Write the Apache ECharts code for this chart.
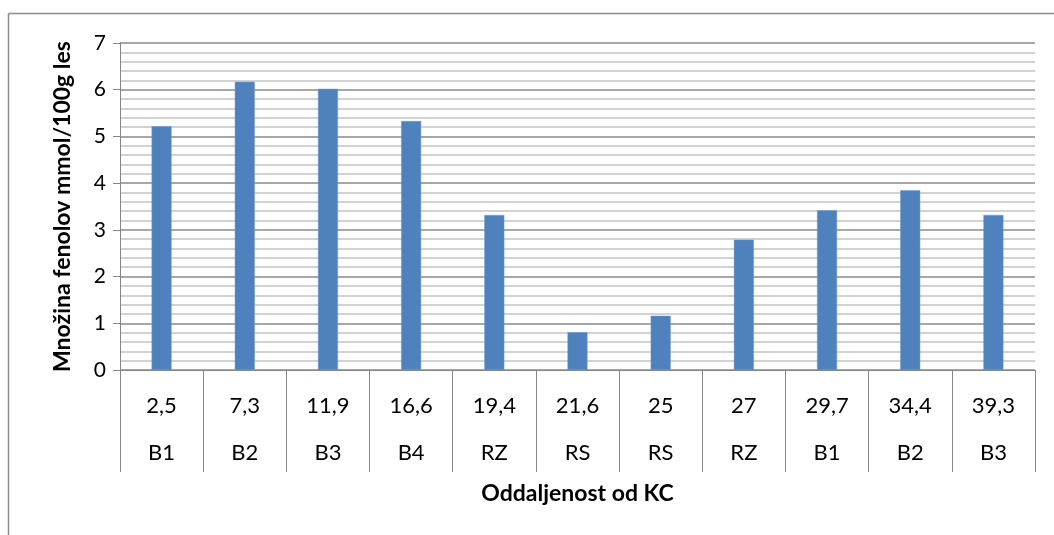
<!DOCTYPE html>
<html>
<head>
<meta charset="utf-8">
<script src="https://cdn.jsdelivr.net/npm/echarts@6/dist/echarts.min.js"></script>
<style>
  html, body { margin: 0; padding: 0; background: #fff; }
  #chart { width: 1054px; height: 535px; }
</style>
</head>
<body>
<div id="chart"></div>
<script>
// Distance from the centre (km) and the sampling site at each distance
const distances = ['2,5', '7,3', '11,9', '16,6', '19,4', '21,6', '25', '27', '29,7', '34,4', '39,3'];
const sites = ['B1', 'B2', 'B3', 'B4', 'RZ', 'RS', 'RS', 'RZ', 'B1', 'B2', 'B3'];
// Phenol amount, mmol per 100 g of wood
const phenols = [5.22, 6.17, 6.02, 5.33, 3.32, 0.81, 1.16, 2.79, 3.42, 3.85, 3.32];
const yTicks = [0, 1, 2, 3, 4, 5, 6, 7];

const categories = distances.map((d, i) => d + '\n' + sites[i]);
const FONT = 'Lato, "Open Sans", sans-serif';

const chart = echarts.init(document.getElementById('chart'));
chart.setOption({
  animation: false,
  backgroundColor: '#ffffff',
  textStyle: { fontFamily: FONT },
  grid: { left: 120, right: 19, top: 43, bottom: 165, containLabel: false },
  xAxis: {
    type: 'category',
    data: categories,
    boundaryGap: true,
    axisLine: { show: true, lineStyle: { color: '#868686', width: 1 } },
    axisTick: { show: true, alignWithLabel: false, length: 102, lineStyle: { color: '#868686', width: 1 } },
    axisLabel: {
      interval: 0, margin: 12, color: '#000', fontSize: 22, lineHeight: 47, fontFamily: FONT
    },
    name: 'Oddaljenost od KC',
    nameLocation: 'middle',
    nameGap: 112,
    nameTextStyle: { fontSize: 23, fontWeight: 'bold', color: '#000', fontFamily: FONT }
  },
  yAxis: {
    type: 'value',
    min: yTicks[0],
    max: yTicks[yTicks.length - 1],
    interval: 1,
    axisLine: { show: true, lineStyle: { color: '#868686', width: 1 } },
    axisTick: { show: true, inside: false, length: 7, lineStyle: { color: '#868686' } },
    axisLabel: { color: '#000', fontSize: 21, margin: 14, fontFamily: FONT },
    splitLine: { show: true, lineStyle: { color: '#8a8a8a', width: 1.5 } },
    minorTick: { show: false, splitNumber: 5 },
    minorSplitLine: { show: true, lineStyle: { color: '#c4c4c4', width: 1.5 } },
    name: 'Množina fenolov mmol/100g les',
    nameLocation: 'middle',
    nameGap: 46,
    nameTextStyle: { fontSize: 23, fontWeight: 'bold', color: '#000', fontFamily: FONT }
  },
  series: [{
    type: 'bar',
    data: phenols,
    barWidth: 20,
    itemStyle: { color: '#4F81BD', borderColor: '#6f9ad0', borderWidth: 0.5 }
  }],
  graphic: [
    { type: 'line', shape: { x1: 8.5, y1: 13.5, x2: 1054, y2: 13.5 }, style: { stroke: '#8c8c8c', lineWidth: 1.5 } },
    { type: 'line', shape: { x1: 8.5, y1: 13.5, x2: 8.5, y2: 535 }, style: { stroke: '#8c8c8c', lineWidth: 1.5 } }
  ]
});
</script>
</body>
</html>
